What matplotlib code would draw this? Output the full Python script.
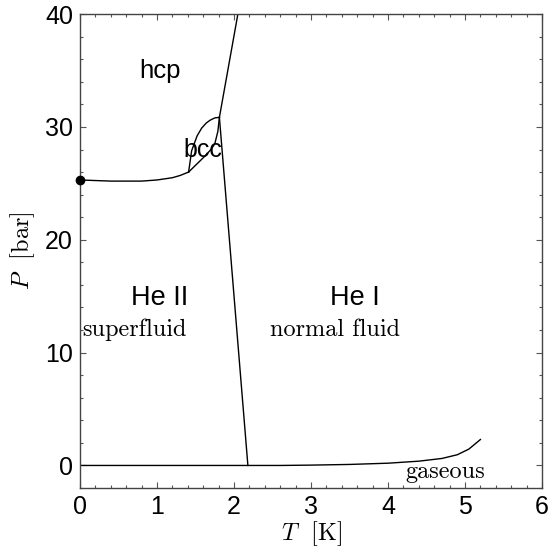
import numpy as np
import matplotlib
matplotlib.use('Agg')
import matplotlib.pyplot as plt
from matplotlib.ticker import MultipleLocator

plt.rcParams['font.family'] = ['Liberation Sans', 'DejaVu Sans']
plt.rcParams['mathtext.fontset'] = 'cm'

# melting curve (liquid -> hcp), low temperature part
melt_T = [0.0, 0.4, 0.8, 1.0, 1.2, 1.3, 1.41]
melt_P = [25.3, 25.2, 25.2, 25.3, 25.5, 25.7, 26.0]

# bcc pocket: upper and lower boundaries
bcc_up_T = [1.41, 1.45, 1.52, 1.58, 1.64, 1.69, 1.75, 1.81]
bcc_up_P = [26.0, 27.9, 29.2, 29.9, 30.35, 30.6, 30.8, 30.85]
bcc_lo_T = [1.41, 1.5, 1.62, 1.70, 1.75, 1.79, 1.81]
bcc_lo_P = [26.0, 26.6, 27.4, 28.0, 28.5, 29.6, 30.85]

# melting curve above bcc
solid_T = [1.81, 2.05]
solid_P = [30.85, 40.0]

# lambda line
lam_T = [1.81, 2.18]
lam_P = [30.85, 0.0]

# vapour pressure curve
vap_T = [0.0, 2.18, 2.6, 3.0, 3.5, 4.0, 4.4, 4.7, 4.9, 5.05, 5.2]
vap_P = [0.0, 0.0, 0.0, 0.03, 0.09, 0.2, 0.38, 0.62, 0.95, 1.45, 2.3]

fig = plt.figure(figsize=(5.5, 5.53), dpi=100)
ax = fig.add_axes([0.1455, 0.1175, 0.84, 0.857])

lw = 1.0
ax.plot(melt_T, melt_P, color='black', lw=lw)
ax.plot(bcc_up_T, bcc_up_P, color='black', lw=lw)
ax.plot(bcc_lo_T, bcc_lo_P, color='black', lw=lw)
ax.plot(solid_T, solid_P, color='black', lw=lw)
ax.plot(lam_T, lam_P, color='black', lw=lw)
ax.plot(vap_T, vap_P, color='black', lw=lw)
ax.plot([0], [25.3], 'o', color='black', ms=6, clip_on=False, zorder=5)

ax.text(1.04, 35.0, 'hcp', fontsize=18.5, ha='center', va='center')
ax.text(1.6, 28.0, 'bcc', fontsize=18, ha='center', va='center')
ax.text(1.04, 14.8, 'He II', fontsize=19.5, ha='center', va='center')
ax.text(3.57, 14.8, 'He I', fontsize=19.5, ha='center', va='center')
ax.text(0.71, 12.0, 'superfluid', fontsize=17.5, ha='center', va='center', family='cmr10')
ax.text(3.31, 12.0, 'normal fluid', fontsize=17.5, ha='center', va='center', family='cmr10')
ax.text(4.74, -0.55, 'gaseous', fontsize=17.5, ha='center', va='center', family='cmr10')

ax.set_xlim(0, 6)
ax.set_ylim(-2, 40)
ax.xaxis.set_major_locator(MultipleLocator(1))
ax.xaxis.set_minor_locator(MultipleLocator(0.2))
ax.yaxis.set_major_locator(MultipleLocator(10))
ax.yaxis.set_minor_locator(MultipleLocator(2))
ax.tick_params(which='both', direction='in', top=True, right=True, labelsize=18, pad=5)
ax.tick_params(which='major', length=4, width=0.8, color='#555555')
ax.tick_params(which='minor', length=2.5, width=0.8, color='#555555')
for s in ax.spines.values():
    s.set_color('#444444')
    s.set_linewidth(1.0)

ax.set_xlabel(r'$T\ $ [K]', fontsize=17.5, family='cmr10', labelpad=0)
ax.set_ylabel(r'$P\ $ [bar]', fontsize=17.5, family='cmr10', labelpad=6)

fig.savefig('out.png', dpi=100)
